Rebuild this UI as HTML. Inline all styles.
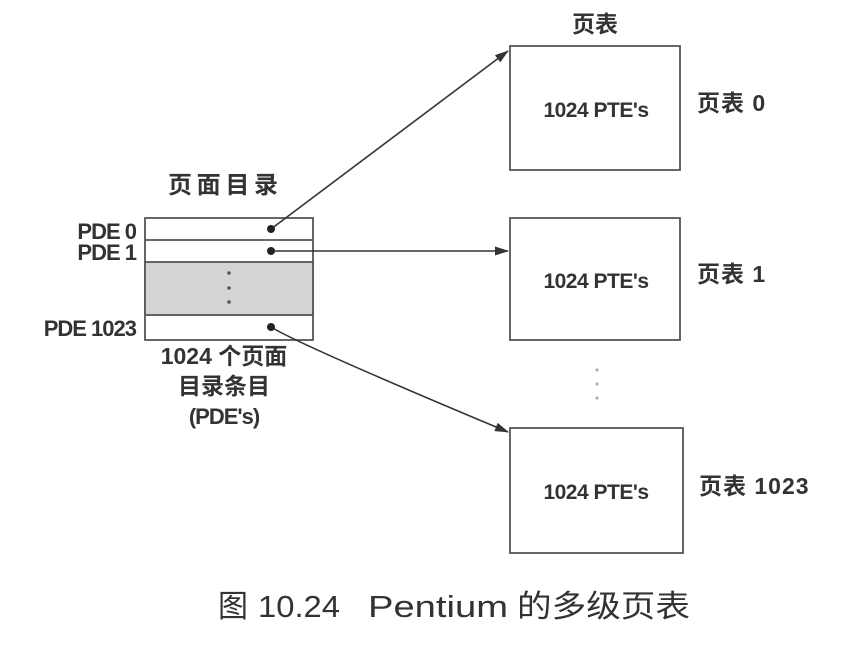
<!DOCTYPE html>
<html><head><meta charset="utf-8"><style>
body{margin:0;background:#fff;}
svg text{font-family:"Liberation Sans","Noto Sans CJK SC",sans-serif;font-weight:bold;fill:#333;}
svg text.n{font-weight:normal;fill:#333;}
</style></head><body>
<svg width="864" height="644" viewBox="0 0 864 644" xmlns="http://www.w3.org/2000/svg">
<defs><marker id="a" markerWidth="14" markerHeight="9" refX="13" refY="4.5" orient="auto" markerUnits="userSpaceOnUse"><path d="M0,0 L14,4.5 L0,9 z" fill="#333"/></marker></defs>
<g stroke="#555" stroke-width="1.8" fill="none">
<rect x="145" y="218" width="168" height="122"/>
<line x1="145" y1="240" x2="313" y2="240"/>
<rect x="145" y="262" width="168" height="53" fill="#d4d4d4"/>
<rect x="510" y="46" width="170" height="124"/>
<rect x="510" y="218" width="170" height="122"/>
<rect x="510" y="428" width="173" height="125"/>
</g>
<g fill="#555"><circle cx="229" cy="273" r="1.8"/><circle cx="229" cy="288" r="1.8"/><circle cx="229" cy="302" r="1.8"/>
<circle cx="597" cy="370" r="1.5" fill="#aaa"/><circle cx="597" cy="384" r="1.5" fill="#aaa"/><circle cx="597" cy="398" r="1.5" fill="#aaa"/></g>
<g stroke="#333" stroke-width="1.6" fill="none">
<line x1="271" y1="229" x2="508" y2="51" marker-end="url(#a)"/>
<line x1="271" y1="251" x2="508" y2="251" marker-end="url(#a)"/>
<path d="M271,327 Q300,345 508,432" marker-end="url(#a)"/>
</g>
<g fill="#222"><circle cx="271" cy="229" r="4"/><circle cx="271" cy="251" r="4"/><circle cx="271" cy="327" r="4"/></g>
<text x="168" y="193" font-size="24" textLength="110">页面目录</text>
<text x="136" y="239" font-size="22" text-anchor="end" letter-spacing="-1">PDE 0</text>
<text x="136" y="260" font-size="22" text-anchor="end" letter-spacing="-1">PDE 1</text>
<text x="136" y="336" font-size="22" text-anchor="end" letter-spacing="-1">PDE 1023</text>
<text x="224" y="364" font-size="23" text-anchor="middle">1024 个页面</text>
<text x="224" y="394" font-size="23" text-anchor="middle">目录条目</text>
<text x="224" y="424" font-size="22" text-anchor="middle" letter-spacing="-1">(PDE's)</text>
<text x="595" y="32" font-size="23" text-anchor="middle">页表</text>
<text x="596" y="117" font-size="21" text-anchor="middle" letter-spacing="-0.5">1024 PTE's</text>
<text x="596" y="288" font-size="21" text-anchor="middle" letter-spacing="-0.5">1024 PTE's</text>
<text x="596" y="499" font-size="21" text-anchor="middle" letter-spacing="-0.5">1024 PTE's</text>
<text x="697" y="111" font-size="23" letter-spacing="1">页表 0</text>
<text x="697" y="282" font-size="23" letter-spacing="1">页表 1</text>
<text x="699" y="494" font-size="23" letter-spacing="1">页表 1023</text>
<text class="n" x="218" y="617" font-size="31" textLength="30" lengthAdjust="spacingAndGlyphs">图</text>
<text class="n" x="258" y="617" font-size="31" textLength="82" lengthAdjust="spacingAndGlyphs">10.24</text>
<text class="n" x="368" y="617" font-size="31" textLength="140" lengthAdjust="spacingAndGlyphs">Pentium</text>
<text class="n" x="517" y="617" font-size="31" textLength="173" lengthAdjust="spacingAndGlyphs">的多级页表</text>
</svg>
</body></html>
